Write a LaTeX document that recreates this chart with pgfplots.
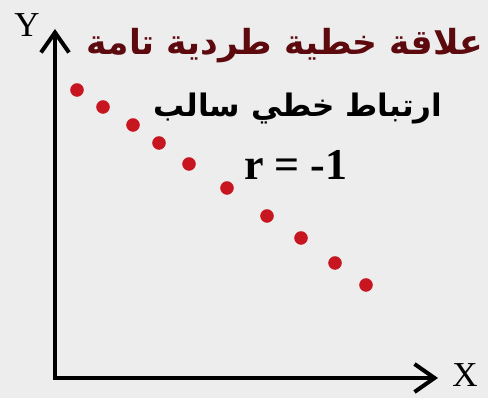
\documentclass[border=0pt]{standalone}
\usepackage{fontspec}
\setmainfont{Liberation Serif}
\newfontfamily\arabicfont[Script=Arabic]{DejaVu Sans}
\TeXXeTstate=1
\usepackage{pgfplots}
\pgfplotsset{compat=1.18}
\usetikzlibrary{arrows.meta}
\definecolor{bg}{RGB}{237,237,237}
\definecolor{dotred}{RGB}{200,22,32}
\definecolor{titlered}{RGB}{92,10,14}

\begin{document}
\begin{tikzpicture}[x=1pt,y=1pt]
\fill[bg] (0,0) rectangle (488,398);
\useasboundingbox (0,0) rectangle (488,398);
\begin{axis}[
  at={(55pt,20pt)}, anchor=south west,
  scale only axis, width=383pt, height=349pt,
  xmin=0, xmax=383, ymin=0, ymax=349,
  axis lines=left,
  axis line style={line width=4.5pt, line cap=rect,
    -{Straight Barb[length=20pt,width=28pt,line width=4pt]}},
  xtick=\empty, ytick=\empty,
  clip=false,
]
% points lying on one falling straight line
\addplot[only marks, mark=*, mark size=6.5pt, color=dotred] coordinates {
  (22,288) (48,271) (78,253) (104,235) (134,214)
  (172,190) (212,162) (246,140) (280,115) (311,93)
};
\end{axis}
\node[font=\fontsize{35}{40}\selectfont] at (27,373) {Y};
\node[font=\fontsize{35}{40}\selectfont] at (465,23) {X};
\node[anchor=base, text=titlered, font=\arabicfont\bfseries\fontsize{34.5}{40}\selectfont]
  at (285,343) {\beginR علاقة خطية طردية تامة\endR};
\node[anchor=base, font=\arabicfont\bfseries\fontsize{31}{36}\selectfont]
  at (298,281) {\beginR ارتباط خطي سالب\endR};
\node[anchor=base, font=\bfseries\fontsize{44}{50}\selectfont]
  at (296,218) {r = -1};
\end{tikzpicture}
\end{document}
